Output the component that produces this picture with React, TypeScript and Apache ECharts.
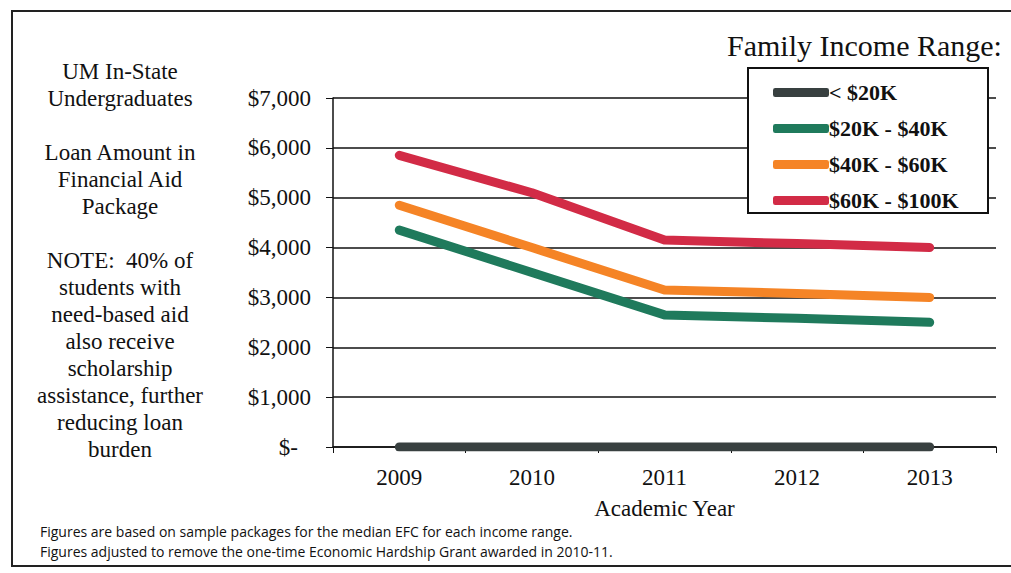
import React, { useEffect, useRef } from "react";
import * as echarts from "echarts";

const years = ["2009", "2010", "2011", "2012", "2013"];
const seriesNames = ["< $20K", "$20K - $40K", "$40K - $60K", "$60K - $100K"];
const under20k = [0, 0, 0, 0, 0];
const k20to40 = [4350, 3500, 2650, 2580, 2500];
const k40to60 = [4850, 4000, 3150, 3080, 3000];
const k60to100 = [5850, 5100, 4150, 4080, 4000];
const colors = ["#384040", "#1f7a5c", "#f58426", "#d22b46"];
const yTicks = { min: 0, max: 7000, interval: 1000 };

const leftNotes = [
  "UM In-State",
  "Undergraduates",
  "",
  "Loan Amount in",
  "Financial Aid",
  "Package",
  "",
  "NOTE:  40% of",
  "students with",
  "need-based aid",
  "also receive",
  "scholarship",
  "assistance, further",
  "reducing loan",
  "burden",
];
const footnotes = [
  "Figures are based on sample packages for the median EFC for each income range.",
  "Figures adjusted to remove the one-time Economic Hardship Grant awarded in 2010-11.",
];

const serif = "'Liberation Serif', 'DejaVu Serif', serif";

export default function App() {
  const ref = useRef<HTMLDivElement>(null);
  useEffect(() => {
    const chart = echarts.init(ref.current!, null, { renderer: "svg" });
    const data = [under20k, k20to40, k40to60, k60to100];
    chart.setOption({
      animation: false,
      backgroundColor: "#ffffff",
      grid: { left: 333, right: 15, top: 98, bottom: 126 },
      xAxis: {
        type: "category",
        data: years,
        boundaryGap: true,
        axisLine: { lineStyle: { color: "#111", width: 1.5 } },
        axisTick: { show: true, length: 6, lineStyle: { color: "#111" } },
        axisLabel: { color: "#111", fontFamily: serif, fontSize: 23, margin: 19 },
        name: "Academic Year",
        nameLocation: "middle",
        nameGap: 50,
        nameTextStyle: { color: "#111", fontFamily: serif, fontSize: 23 },
      },
      yAxis: {
        type: "value",
        min: yTicks.min,
        max: yTicks.max,
        interval: yTicks.interval,
        axisLine: { show: true, lineStyle: { color: "#111", width: 1.5 } },
        axisTick: { show: true, length: 7, lineStyle: { color: "#111" } },
        splitLine: { lineStyle: { color: "#111", width: 1.5 } },
        axisLabel: {
          color: "#111",
          fontFamily: serif,
          fontSize: 23,
          margin: 22,
          formatter: (v: number) =>
            v === 0 ? "{z|$-}" : "$" + v.toLocaleString("en-US"),
          rich: { z: { fontFamily: serif, fontSize: 23, color: "#111", padding: [0, 13, 0, 0] } },
        },
      },
      legend: {
        orient: "vertical",
        left: 768,
        top: 76,
        itemWidth: 56,
        itemHeight: 9,
        itemGap: 13,
        icon: "roundRect",
        data: seriesNames,
        textStyle: {
          color: "#111",
          fontFamily: serif,
          fontSize: 22,
          fontWeight: "bold",
          lineHeight: 23,
          padding: [0, 0, 0, -5],
        },
      },
      series: seriesNames.map((name, i) => ({
        name,
        type: "line",
        data: data[i],
        symbol: "none",
        color: colors[i],
        lineStyle: { color: colors[i], width: 9, cap: "round", join: "round" },
        z: 3 + i,
      })),
      graphic: [
        {
          type: "rect",
          shape: { x: 12, y: 11, width: 1010, height: 555 },
          style: { fill: "none", stroke: "#222", lineWidth: 2 },
          z: 0,
        },
        {
          type: "rect",
          shape: { x: 748, y: 68, width: 240, height: 145 },
          style: { fill: "#fff", stroke: "#111", lineWidth: 2 },
          z: 1,
        },
        {
          type: "text",
          x: 727,
          y: 45,
          style: {
            text: "Family Income Range:",
            fontFamily: serif,
            fontSize: 30,
            fill: "#111",
            textVerticalAlign: "middle",
          },
        },
        ...leftNotes.map((t, i) => ({
          type: "text",
          x: 120,
          y: 71 + i * 27,
          style: {
            text: t,
            fontFamily: serif,
            fontSize: 23,
            fill: "#111",
            textAlign: "center",
            textVerticalAlign: "middle",
          },
        })),
        ...footnotes.map((t, i) => ({
          type: "text",
          x: 40,
          y: 531 + i * 20,
          style: {
            text: t,
            fontFamily: "'Liberation Sans Narrow', 'Open Sans', sans-serif",
            fontSize: 14,
            fill: "#111",
            textVerticalAlign: "middle",
          },
        })),
      ],
    });
    return () => chart.dispose();
  }, []);
  return (
    <div
      ref={ref}
      style={{ position: "fixed", left: 0, top: 0, width: 1011, height: 573 }}
    />
  );
}
